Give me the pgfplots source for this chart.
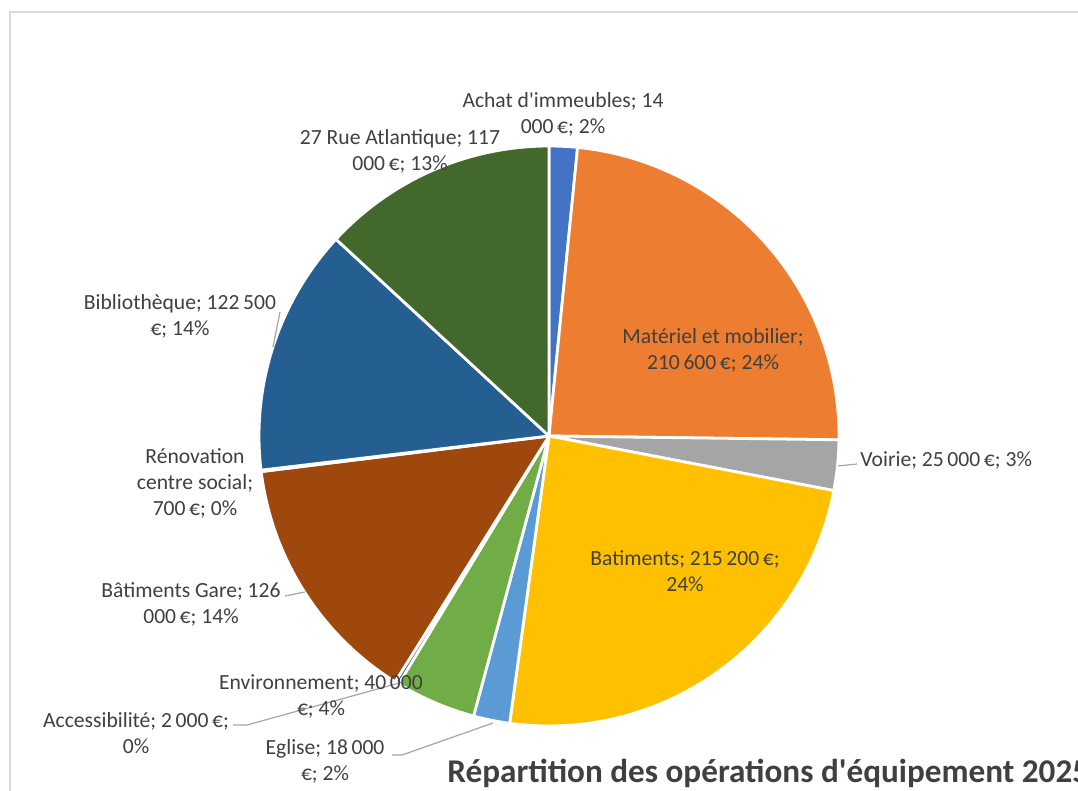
\documentclass[border=0pt]{standalone}
\usepackage{pgfplots}
\pgfplotsset{compat=1.18}
\usepackage{pgfplotstable}
\usepackage{fontspec}
\setmainfont{Carlito}
\definecolor{c0}{HTML}{4472C4}
\definecolor{c1}{HTML}{ED7D31}
\definecolor{c2}{HTML}{A5A5A5}
\definecolor{c3}{HTML}{FFC000}
\definecolor{c4}{HTML}{5B9BD5}
\definecolor{c5}{HTML}{70AD47}
\definecolor{c6}{HTML}{264478}
\definecolor{c7}{HTML}{9E480E}
\definecolor{c8}{HTML}{636363}
\definecolor{c9}{HTML}{255E91}
\definecolor{c10}{HTML}{43682B}
\definecolor{lbl}{HTML}{404040}
\definecolor{lead}{HTML}{A6A6A6}
\definecolor{frame}{HTML}{D9D9D9}

% values in euros
\pgfplotstableread{
idx value
0 14000
1 210600
2 25000
3 215200
4 18000
5 40000
6 2000
7 126000
8 700
9 122500
10 117000
}\data

\def\total{0}
\pgfplotsforeachungrouped \i in {0,...,10}{%
  \pgfplotstablegetelem{\i}{value}\of\data
  \xdef\total{\fpeval{\total+\pgfplotsretval}}%
}
\def\acc{0}
\pgfplotsforeachungrouped \i in {0,...,10}{%
  \pgfplotstablegetelem{\i}{value}\of\data
  \expandafter\xdef\csname sa\i\endcsname{\fpeval{90-\acc/\total*360}}%
  \xdef\acc{\fpeval{\acc+\pgfplotsretval}}%
  \expandafter\xdef\csname ea\i\endcsname{\fpeval{90-\acc/\total*360}}%
}

\begin{document}
\begin{tikzpicture}
\useasboundingbox (0,0) rectangle (539pt,395.5pt);
\clip (0,0) rectangle (539pt,395.5pt);
\begin{axis}[
  at={(0,0)}, anchor=south west,
  scale only axis, width=539pt, height=395.5pt,
  xmin=0, xmax=1078, ymin=0, ymax=791, y dir=reverse,
  hide axis, clip=false,
]
\draw[frame, line width=0.6pt] (axis cs:10,12) rectangle (axis cs:1200,900);
\pgfplotsinvokeforeach{0,...,10}{%
  \edef\tmp{\noexpand\addplot[fill=c#1, draw=white, line width=1.4pt, line join=round,
    domain=\csname ea#1\endcsname:\csname sa#1\endcsname, samples=80, variable=\noexpand\t]
    ({549+290*cos(\noexpand\t)},{436-290*sin(\noexpand\t)}) -- (axis cs:549,436) -- cycle;}%
  \tmp
}
% leader lines
\draw[lead, line width=0.6pt] (axis cs:280,312) -- (axis cs:273,347);
\draw[lead, line width=0.6pt] (axis cs:285,596) -- (axis cs:305,592);
\draw[lead, line width=0.6pt] (axis cs:838,466) -- (axis cs:857,464);
\draw[lead, line width=0.6pt] (axis cs:233,725) -- (axis cs:247,725) -- (axis cs:403,682);
\draw[lead, line width=0.6pt] (axis cs:392,755) -- (axis cs:402,755) -- (axis cs:493,723);
% labels
\tikzset{lab/.style={text=lbl, align=center, inner sep=0pt, font=\fontsize{10.8}{13}\selectfont}}
\node[lab] at (axis cs:563,114) {Achat d\textquotesingle immeubles; 14\\000\,€; 2\%};
\node[lab] at (axis cs:400,151) {27 Rue Atlantique; 117\\000\,€; 13\%};
\node[lab] at (axis cs:180,316) {Bibliothèque; 122\,500\\€; 14\%};
\node[lab] at (axis cs:195,483) {Rénovation\\centre social;\\700\,€; 0\%};
\node[lab] at (axis cs:191,604) {Bâtiments Gare; 126\\000\,€; 14\%};
\node[lab] at (axis cs:321,696) {Environnement; 40\,000\\€; 4\%};
\node[lab] at (axis cs:136,733) {Accessibilité; 2\,000\,€;\\0\%};
\node[lab] at (axis cs:325,761) {Eglise; 18\,000\\€; 2\%};
\node[lab, anchor=west] at (axis cs:860,460) {Voirie; 25\,000\,€; 3\%};
\node[lab] at (axis cs:713,350) {Matériel et mobilier;\\210\,600\,€; 24\%};
\node[lab] at (axis cs:685,571) {Batiments; 215\,200\,€;\\24\%};
\node[anchor=base west, inner sep=0pt, text=lbl, font=\fontsize{16.6}{19}\selectfont\bfseries] at (axis cs:447,782) {Répartition des opérations d\textquotesingle équipement 2025};
\end{axis}
\end{tikzpicture}
\end{document}
